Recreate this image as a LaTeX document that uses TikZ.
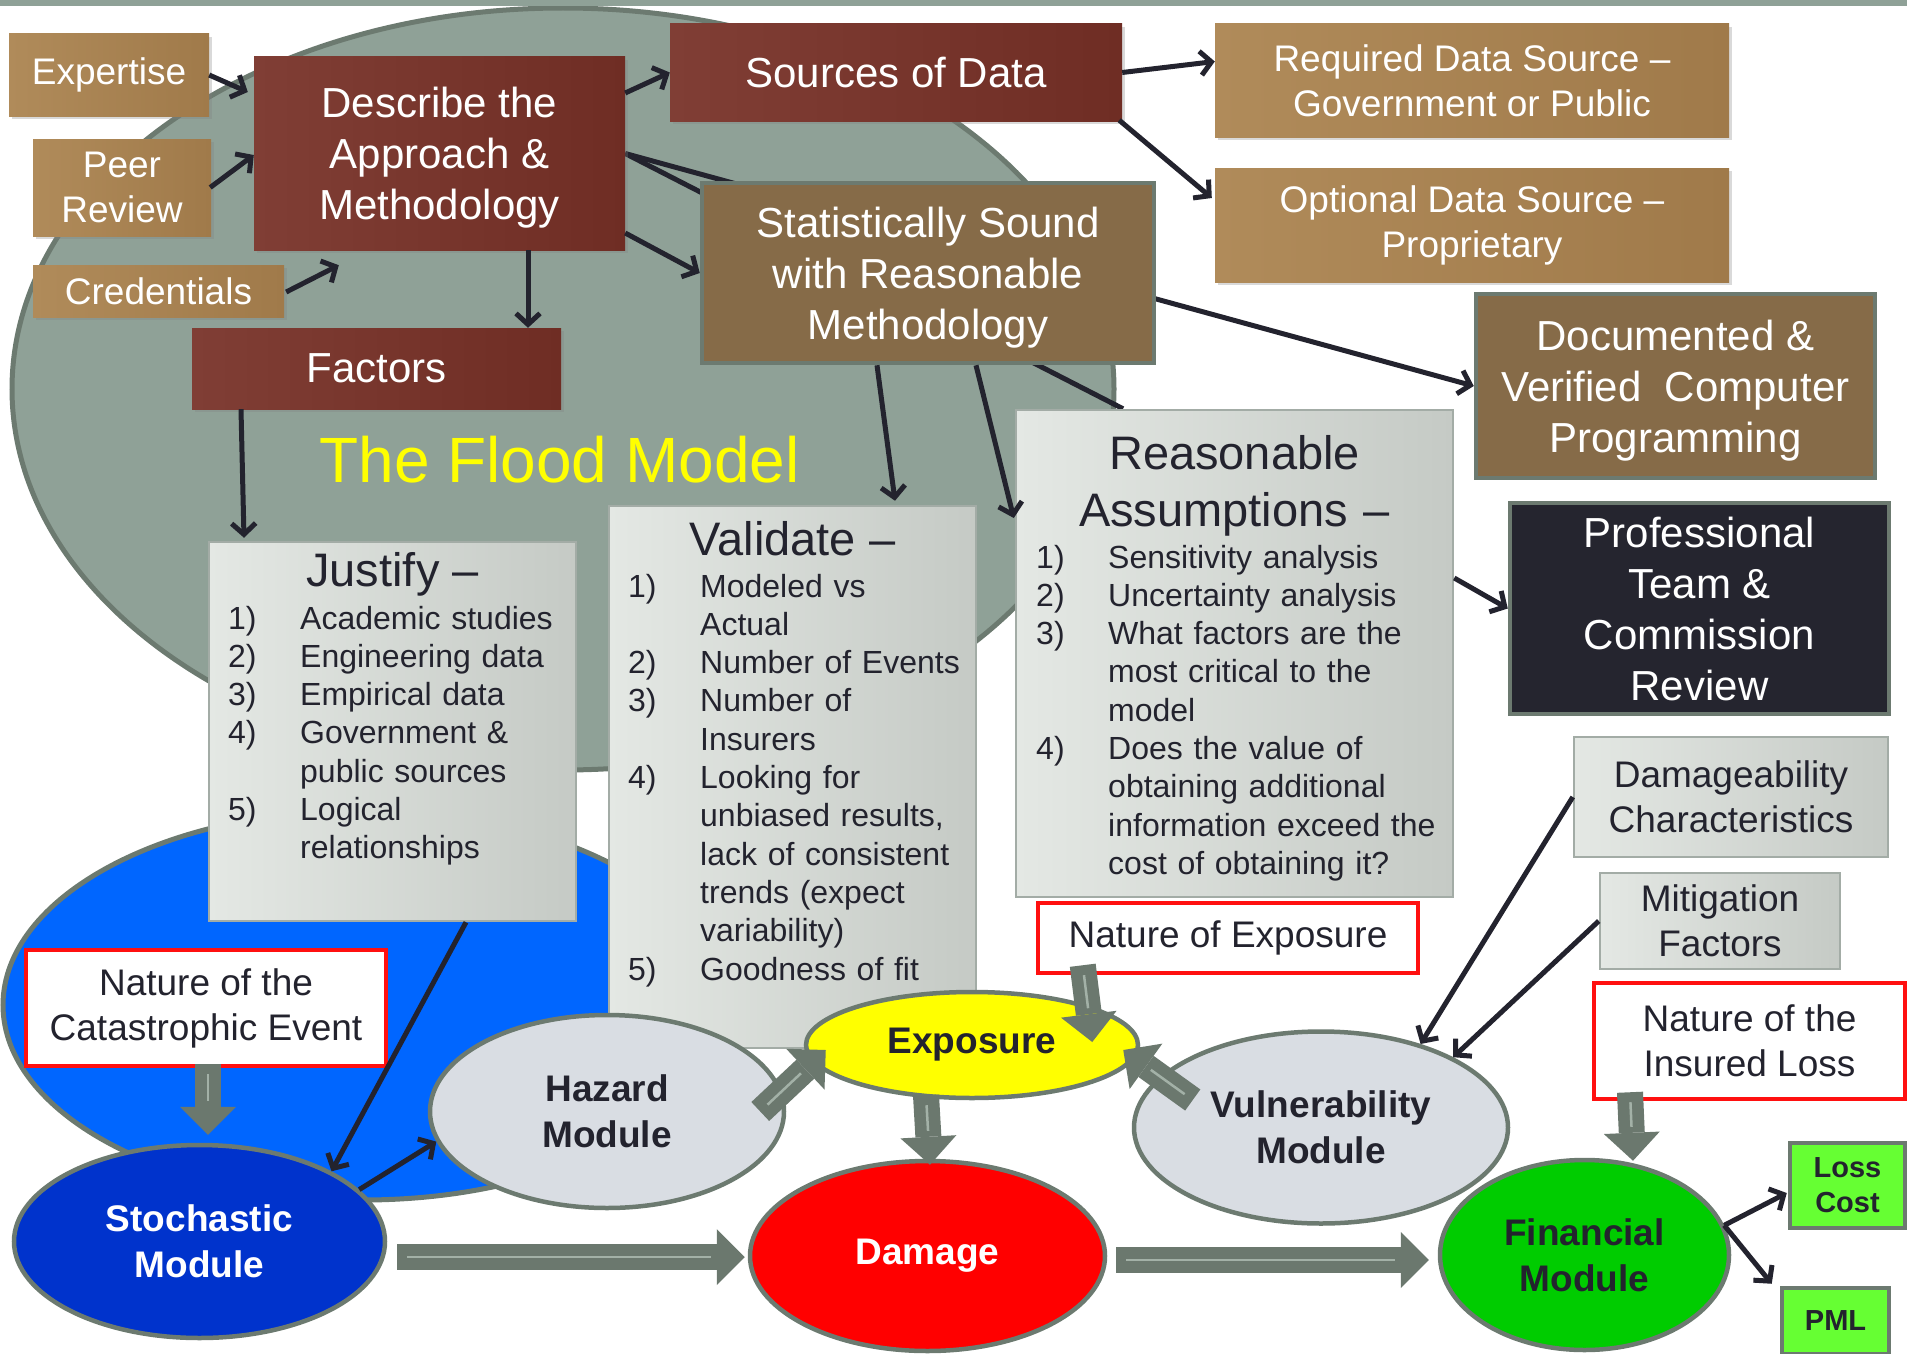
\documentclass[tikz,border=0pt]{standalone}
\usepackage{fontspec}
\setmainfont{Liberation Sans}
\usetikzlibrary{arrows.meta,shapes.geometric,shadows,calc}
\definecolor{bargreen}{HTML}{8FA197}
\definecolor{bigfill}{HTML}{8FA197}
\definecolor{rim}{HTML}{6C7A70}
\definecolor{bluefill}{HTML}{0066FF}
\definecolor{tanL}{HTML}{B08B5A}
\definecolor{tanR}{HTML}{A07A4A}
\definecolor{redL}{HTML}{803E35}
\definecolor{redR}{HTML}{6F2D24}
\definecolor{brownf}{HTML}{866B48}
\definecolor{darkf}{HTML}{25252F}
\definecolor{lgL}{HTML}{E4E8E4}
\definecolor{lgR}{HTML}{C5CAC5}
\definecolor{lgrim}{HTML}{A3ACA6}
\definecolor{ink}{HTML}{23232E}
\definecolor{frame}{HTML}{FF1010}
\definecolor{stochf}{HTML}{0033CC}
\definecolor{modf}{HTML}{D9DDE3}
\definecolor{finf}{HTML}{00CC00}
\definecolor{lgreen}{HTML}{66FF33}
\definecolor{blockc}{HTML}{6B786E}
\definecolor{blockhl}{HTML}{A3B1A7}
\definecolor{floodyellow}{HTML}{FFFF00}
\newcommand\fszA{\fontsize{42}{51}\selectfont}
\newcommand\fszB{\fontsize{37}{45}\selectfont}
\newcommand\fszL{\fontsize{32}{38.3}\selectfont}
\newcommand\fszH{\fontsize{47}{57}\selectfont}
\newcommand\fszE{\fontsize{37}{46}\selectfont\bfseries}
\newcommand\fszG{\fontsize{29}{35}\selectfont\bfseries}
\newcommand\fszT{\fontsize{64}{70}\selectfont}
\newcommand\myitem[2]{\noindent\hangindent=72pt\hangafter=1\makebox[72pt][l]{#1}#2\par}
\pgfdeclarelayer{bg}
\pgfdeclarelayer{behind}
\pgfsetlayers{bg,behind,main}
\tikzset{
  bx/.style={rectangle, inner sep=0pt, align=center},
  shd/.style={drop shadow={shadow xshift=3pt, shadow yshift=-3pt, opacity=0.3}},
  tanbox/.style={bx, shd, left color=tanL, right color=tanR, text=white, font=\fszB},
  redbox/.style={bx, shd, left color=redL, right color=redR, text=white, font=\fszA},
  brownbox/.style={bx, fill=brownf, draw=rim, line width=4.5pt, text=white, font=\fszA},
  darkbox/.style={bx, fill=darkf, draw=rim, line width=4.5pt, text=white, font=\fszA},
  lgbox/.style={bx, left color=lgL, right color=lgR, draw=lgrim, line width=2.5pt, text=ink, font=\fszB},
  redframe/.style={bx, fill=white, draw=frame, line width=4.5pt, text=ink, font=\fszB},
  grbox/.style={bx, fill=lgreen, draw=rim, line width=4.5pt, text=ink, font=\fszG},
  modell/.style={ellipse, inner sep=0pt, draw=rim, line width=4.5pt, font=\fszE, align=center},
  listtxt/.style={text width=600pt, align=left, font=\fszL, text=ink, inner sep=0pt, anchor=base west},
  titletxt/.style={font=\fszH, text=ink, inner sep=0pt, anchor=base, align=center},
  arr/.style={draw=ink, line width=5pt, -{Straight Barb[length=11pt,width=24pt]}},
  plainline/.style={draw=ink, line width=5pt},
  blk/.style={draw=blockc, line width=26pt, -{Triangle[length=28pt,width=56pt,line width=0pt]},
    postaction={draw=blockhl, line width=2.5pt, -, shorten >=34pt, shorten <=10pt}},
}
\begin{document}
\begin{tikzpicture}[x=1pt,y=-1pt]
\useasboundingbox (0,0) rectangle (1907,1354);
\fill[bargreen] (0,0) rectangle (1907,6);

\begin{pgfonlayer}{bg}
\node[ellipse, inner sep=0pt, fill=bigfill, draw=rim, line width=5pt,
      minimum width=1102, minimum height=762] (floodarea) at (563,389) {};
\node[ellipse, inner sep=0pt, fill=bluefill, draw=rim, line width=5pt,
      minimum width=720, minimum height=390] (bluearea) at (363,1005) {};
\end{pgfonlayer}

% title
\node[font=\fszT, text=floodyellow] (floodtitle) at (559.5,460) {The Flood Model};

% top-left boxes
\node[tanbox, minimum width=200, minimum height=82] (expertise) at (109,75) {Expertise};
\node[tanbox, minimum width=178, minimum height=97] (peer) at (122,187.5) {Peer\\Review};
\node[tanbox, minimum width=251, minimum height=52] (cred) at (158.5,291) {Credentials};
\node[redbox, text depth=0pt, minimum width=371, minimum height=193] (describe) at (439.5,153.5) {Describe the\\Approach \&\\Methodology};
\node[redbox, minimum width=369, minimum height=81] (factors) at (376.5,368.5) {Factors};
\node[redbox, minimum width=452, minimum height=97] (sources) at (896,72.5) {Sources of Data};
\node[tanbox, minimum width=514, minimum height=113] (required) at (1472,80.5) {Required Data Source –\\Government or Public};
\node[tanbox, minimum width=514, minimum height=114] (optional) at (1472,225) {Optional Data Source –\\Proprietary};
\node[brownbox, text depth=0pt, minimum width=452, minimum height=180] (stat) at (928,273) {Statistically Sound\\with Reasonable\\Methodology};
\node[brownbox, text depth=0pt, minimum width=399, minimum height=184] (documented) at (1675.5,386) {Documented \&\\Verified~ Computer\\Programming};
\node[darkbox, minimum width=379, minimum height=211] (professional) at (1699.5,608.5) {Professional\\Team \&\\Commission\\Review};
\node[lgbox, minimum width=314, minimum height=120] (damageability) at (1731,797) {Damageability\\Characteristics};
\node[lgbox, minimum width=240, minimum height=96] (mitigation) at (1720,921) {Mitigation\\Factors};

% list boxes
\node[lgbox, minimum width=367, minimum height=379] (justify) at (392.5,731.5) {};
\node[lgbox, minimum width=367, minimum height=542] (validate) at (792.5,777) {};
\node[lgbox, minimum width=437, minimum height=487] (reasonable) at (1234.5,653.5) {};

\node[titletxt] (justifytitle) at (392.5,586) {Justify –};
\node[listtxt] (justifylist) at (228,629) {\myitem{1)}{Academic studies}\myitem{2)}{Engineering data}\myitem{3)}{Empirical data}\myitem{4)}{Government \&\newline public sources}\myitem{5)}{Logical\newline relationships}};

\node[titletxt] (validatetitle) at (792.5,555) {Validate –};
\node[listtxt] (validatelist) at (628,597) {\myitem{1)}{Modeled vs\newline Actual}\myitem{2)}{Number of Events}\myitem{3)}{Number of\newline Insurers}\myitem{4)}{Looking for\newline unbiased results,\newline lack of consistent\newline trends (expect\newline variability)}\myitem{5)}{Goodness of fit}};

\node[titletxt, text width=437pt] (reasonabletitle) at (1234.5,469) {Reasonable\\Assumptions –};
\node[listtxt] (reasonablelist) at (1036,568) {\myitem{1)}{Sensitivity analysis}\myitem{2)}{Uncertainty analysis}\myitem{3)}{What factors are the\newline most critical to the\newline model}\myitem{4)}{Does the value of\newline obtaining additional\newline information exceed the\newline cost of obtaining it?}};

% red framed boxes
\node[redframe, minimum width=380, minimum height=70] (natexp) at (1228,938) {Nature of Exposure};
\node[redframe, minimum width=311, minimum height=116] (natloss) at (1749.5,1041) {Nature of the\\Insured Loss};
\node[redframe, minimum width=360, minimum height=116] (natcat) at (206,1008) {Nature of the\\Catastrophic Event};

% green result boxes
\node[grbox, minimum width=115, minimum height=85] (losscost) at (1847.5,1185.5) {Loss\\Cost};
\node[grbox, minimum width=107, minimum height=66] (pml) at (1835.5,1321) {PML};

% module ellipses
\node[modell, fill=stochf, text=white, minimum width=371, minimum height=193] (stochastic) at (199.5,1241.5) {Stochastic\\Module};
\node[modell, fill=modf, text=ink, minimum width=354, minimum height=193] (hazard) at (607,1111.5) {Hazard\\Module};
\node[modell, fill=floodyellow, text=ink, minimum width=332, minimum height=106] (exposure) at (972,1045) {Exposure};
\node[modell, fill=red, text=white, minimum width=355, minimum height=190] (damage) at (927.5,1256) {Damage};
\node[modell, fill=modf, text=ink, minimum width=374, minimum height=192] (vulnerability) at (1321,1127.5) {Vulnerability\\Module};
\node[modell, fill=finf, text=ink, minimum width=289, minimum height=190] (financial) at (1584.5,1255) {Financial\\Module};

% connectors hidden behind boxes
\begin{pgfonlayer}{behind}
\draw[arr] (describe.east) -- (documented.west);
\draw[plainline] (describe.east) -- ($(reasonable.north)+(-111.5,0)$);
\end{pgfonlayer}

% dark arrows
\draw[arr] (expertise.east) -- ($(describe.west)+(-6,-61.5)$);
\draw[arr] ($(peer.east)+(-1,0)$) -- ($(describe.west)+(0,1.5)$);
\draw[arr] ($(cred.east)+(2,1)$) -- ($(describe.south west)+(85,15)$);
\draw[arr] ($(describe.south)+(88.5,0)$) -- ($(factors.north)+(151.5,0)$);
\draw[arr] ($(describe.east)+(0,-60.5)$) -- (sources.west);
\draw[arr] ($(describe.east)+(0,79.5)$) -- (stat.west);
\draw[arr] (sources.east) -- ($(required.west)+(0,-19)$);
\draw[arr] ($(sources.south east)+(-3,-1)$) -- ($(optional.west)+(-3,-27)$);
\draw[arr] ($(stat.south)+(-51,0)$) -- ($(validate.north)+(102.5,-4)$);
\draw[arr] ($(stat.south)+(48,0)$) -- ($(reasonable.west)+(-1,-135.5)$);
\draw[arr] ($(reasonable.east)+(0,-75.5)$) -- (professional.west);
\draw[arr] ($(factors.south)+(-135.5,0)$) -- ($(justify.north)+(-148.5,-3)$);
\draw[arr] ($(justify.south)+(73.5,0)$) -- (stochastic.28);
\draw[arr] (stochastic.18) -- (hazard.190);
\draw[arr] (damageability.west) -- (vulnerability.40);
\draw[arr] (mitigation.west) -- (vulnerability.28);
\draw[arr] (financial.12) -- ($(losscost.west)+(-1,7.5)$);
\draw[arr] (financial.12) -- ($(pml.north west)+(-8,-2)$);

% block arrows
\draw[blk] ($(stochastic.east)+(10,15.5)$) -- ($(damage.west)+(-3,1)$);
\draw[blk] ($(damage.east)+(9,4)$) -- ($(financial.west)+(-9,5)$);
\draw[blk] ($(natcat.south)+(2,-4)$) -- ($(stochastic.north)+(8.5,-8)$);
\draw[blk] ($(exposure.south)+(-46,-5)$) -- ($(damage.north)+(2.5,6)$);
\draw[blk] ($(natexp.south west)+(47,-10)$) -- ($(exposure.east)+(-48,-3)$);
\draw[blk] ($(hazard.east)+(-26,0)$) -- ($(exposure.west)+(22,5)$);
\draw[blk] ($(vulnerability.west)+(61,-27.5)$) -- ($(exposure.east)+(-17,5)$);
\draw[blk] ($(natloss.south)+(-119.5,-9)$) -- ($(financial.north)+(48.5,3)$);
\end{tikzpicture}
\end{document}
